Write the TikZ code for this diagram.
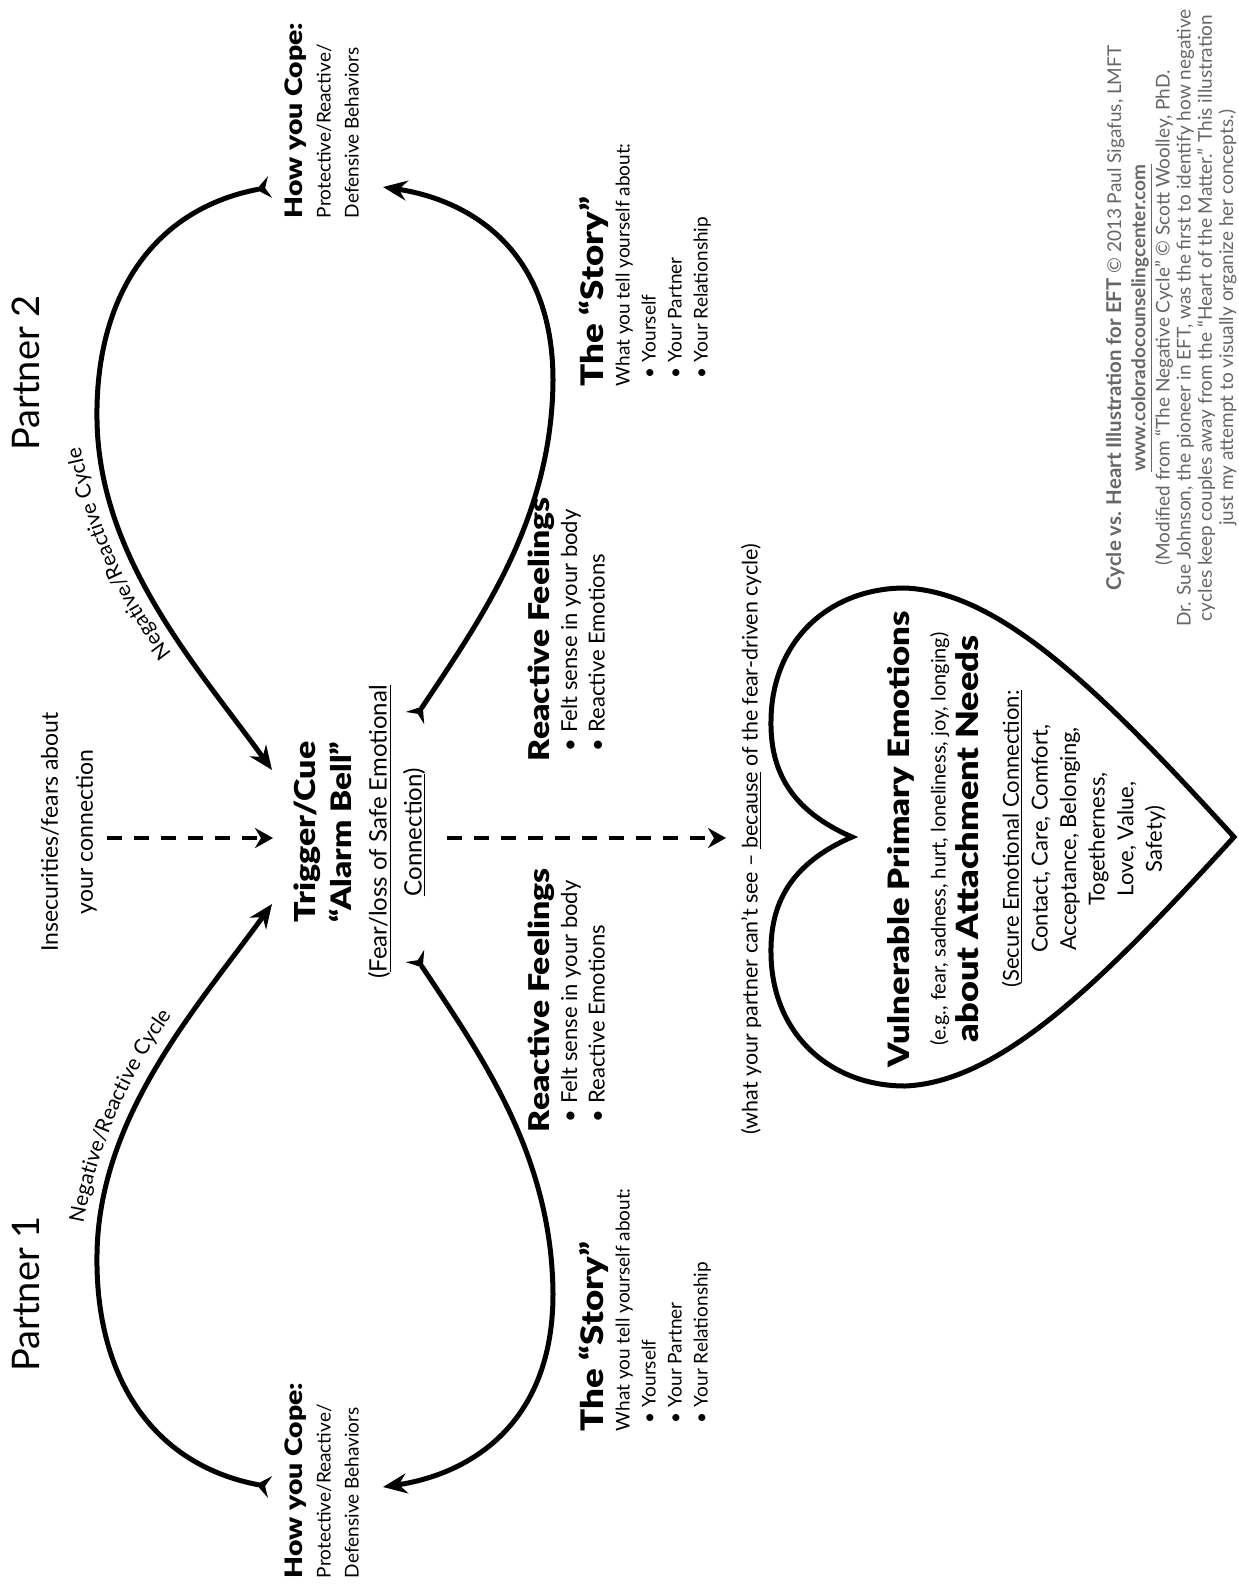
\documentclass[tikz,border=0pt]{standalone}
\usepackage{fontspec}
\setmainfont{Lato}
\newfontfamily\heavy{Lato Black}[FakeStretch=1.18]
\usetikzlibrary{arrows.meta,decorations.text}
\definecolor{credgray}{gray}{0.40}
\newcommand\hdtext[2]{{\heavy\fontsize{#1}{#1}\selectfont #2}}
\begin{document}
\begin{tikzpicture}[x=0.5pt,y=-0.5pt,
  lbl/.style={rotate=90, inner sep=0pt, outer sep=0pt},
  loopline/.style={line width=2.5pt,
    {Stealth[length=7pt,width=11pt,inset=2.5pt,reversed]}-{Stealth[length=12pt,width=10pt,inset=4pt]}},
  dasharrow/.style={line width=2pt, dash pattern=on 7.5pt off 6pt,
    -{Stealth[length=9pt,width=10pt,inset=3pt]}},
  heartline/.style={line width=2.5pt, fill=white, line join=miter, miter limit=20}]
\useasboundingbox (0,0) rectangle (1238,1591);

% partners
\node[lbl, anchor=north, font=\fontsize{19}{22}\selectfont] (p2) at (12,373) {Partner 2};
\node[lbl, anchor=north, font=\fontsize{19}{22}\selectfont] (p1) at (12,1294) {Partner 1};

% insecurities
\node[lbl, anchor=north, align=center, font=\fontsize{11.5}{17.5}\selectfont] (insec) at (41,832)
  {Insecurities/fears about\\your connection};

% how you cope
\node[lbl, anchor=north west, align=left, font=\fontsize{9.5}{14}\selectfont] (copeT) at (285,218)
  {\hdtext{12}{How you Cope:}\\Protective/Reactive/\\Defensive Behaviors};
\node[lbl, anchor=north west, align=left, font=\fontsize{9.5}{14}\selectfont] (copeB) at (285,1578)
  {\hdtext{12}{How you Cope:}\\Protective/Reactive/\\Defensive Behaviors};

% trigger
\node[lbl, anchor=north, align=center, font=\fontsize{12}{17.5}\selectfont] (trig) at (294,832)
  {\hdtext{14.4}{Trigger/Cue}\\[0.5pt]\hdtext{14.1}{“Alarm Bell”}\\(\underline{Fear/loss of Safe Emotional}\\\underline{Connection})};

% reactive feelings
\node[lbl, anchor=north west, align=left, font=\fontsize{11}{13.8}\selectfont] (reactT) at (528,761)
  {\hdtext{14.3}{Reactive Feelings}\\\hspace*{5pt}• Felt sense in your body\\\hspace*{5pt}• Reactive Emotions};
\node[lbl, anchor=north west, align=left, font=\fontsize{11}{13.8}\selectfont] (reactB) at (528,1132)
  {\hdtext{14.3}{Reactive Feelings}\\\hspace*{5pt}• Felt sense in your body\\\hspace*{5pt}• Reactive Emotions};

% story
\node[lbl, anchor=north west, align=left, font=\fontsize{9.5}{13}\selectfont] (storyT) at (579,386)
  {\hdtext{15.5}{The “Story”}\\What you tell yourself about:\\\hspace*{4pt}• Yourself\\\hspace*{4pt}• Your Partner\\\hspace*{4pt}• Your Relationship};
\node[lbl, anchor=north west, align=left, font=\fontsize{9.5}{13}\selectfont] (storyB) at (579,1431)
  {\hdtext{15.5}{The “Story”}\\What you tell yourself about:\\\hspace*{4pt}• Yourself\\\hspace*{4pt}• Your Partner\\\hspace*{4pt}• Your Relationship};

% hidden line
\node[lbl, anchor=north, font=\fontsize{10.7}{13}\selectfont] (hidden) at (741,839)
  {(what your partner can’t see – \underline{because} of the fear-driven cycle)};

% heart
\draw[heartline] (852,837) .. controls (790,810) and (770,770) .. (771,720)
  .. controls (772,640) and (830,588) .. (905,588)
  .. controls (1000,592) and (1100,690) .. (1234,837)
  .. controls (1100,984) and (1000,1082) .. (905,1086)
  .. controls (830,1086) and (772,1034) .. (771,954)
  .. controls (770,904) and (790,864) .. (852,837) -- cycle;
\node[lbl, anchor=north, align=center, font=\fontsize{11}{14.3}\selectfont] (heartTxt) at (887,839)
  {\hdtext{14.7}{Vulnerable Primary Emotions}\\[4pt]{\fontsize{10}{12}\selectfont (e.g., fear, sadness, hurt, loneliness, joy, longing)}\\[2pt]\hdtext{15.3}{about Attachment Needs}\\[6pt](\underline{Secure Emotional Connection:}\\Contact, Care, Comfort,\\Acceptance, Belonging,\\Togetherness,\\Love, Value,\\Safety)};

% credits
\node[lbl, anchor=north, align=center, text=credgray, font=\fontsize{9.5}{10.6}\selectfont] (cred) at (1106,318)
  {{\bfseries\fontsize{10.2}{10.6}\selectfont Cycle vs. Heart Illustration for EFT} © 2013 Paul Sigafus, LMFT\\[1.5pt]
   {\bfseries\underline{www.coloradocounselingcenter.com}}\\
   (Modified from “The Negative Cycle” © Scott Woolley, PhD.\\
   Dr. Sue Johnson, the pioneer in EFT, was the first to identify how negative\\
   cycles keep couples away from the “Heart of the Matter.” This illustration\\
   just my attempt to visually organize her concepts.)};

% loop curves
\coordinate (tl1) at (270,187); \coordinate (tl2) at (272,770);
\coordinate (tr1) at (415,718); \coordinate (tr2) at (383,187);
\coordinate (bl1) at (270,1487); \coordinate (bl2) at (272,904);
\coordinate (br1) at (415,956); \coordinate (br2) at (383,1487);
\draw[loopline] (tl1) .. controls (150,210) and (95,300) .. (97,420) .. controls (99,560) and (200,670) .. (tl2);
\draw[loopline] (tr1) .. controls (480,620) and (552,520) .. (553,380) .. controls (553,250) and (470,200) .. (tr2);
\draw[loopline] (bl1) .. controls (150,1464) and (95,1374) .. (97,1254) .. controls (99,1114) and (200,1004) .. (bl2);
\draw[loopline] (br1) .. controls (480,1054) and (552,1154) .. (553,1294) .. controls (553,1424) and (470,1474) .. (br2);

% dashed arrows
\coordinate (d1s) at (107,838); \coordinate (d1e) at (273,838);
\coordinate (d2s) at (447,838); \coordinate (d2e) at (726,838);
\draw[dasharrow] (d1s) -- (d1e);
\draw[dasharrow] (d2s) -- (d2e);

% curved labels
\path[decorate, decoration={text along path, text align=center,
  text={|\fontsize{10.5}{12}\selectfont|Negative/Reactive Cycle}}]
  (173,655) .. controls (125,595) and (95,520) .. (80,445);
\path[decorate, decoration={text along path, text align=center,
  text={|\fontsize{10.5}{12}\selectfont|Negative/Reactive Cycle}}]
  (82,1232) .. controls (95,1150) and (130,1070) .. (178,1008);
\end{tikzpicture}
\end{document}
